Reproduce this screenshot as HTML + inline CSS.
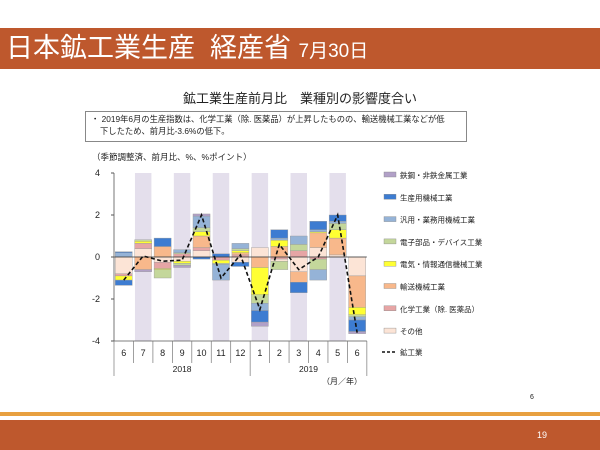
<!DOCTYPE html><html><head><meta charset="utf-8"><style>
body{margin:0;width:600px;height:450px;background:#fff;position:relative;overflow:hidden;font-family:"Liberation Sans","Noto Sans CJK JP",sans-serif}
.hdr{position:absolute;left:0;top:28px;width:600px;height:41px;background:#BE582D;color:#fff;font-size:27px;line-height:41px;padding-left:6px;box-sizing:border-box;white-space:nowrap}
.hdr small{font-size:19px}
</style></head><body>
<div class="hdr">日本鉱工業生産&nbsp;&nbsp;経産省 <small>7月30日</small></div>
<div style="position:absolute;left:0;top:412px;width:600px;height:4px;background:#E8A040"></div>
<div style="position:absolute;left:0;top:420px;width:600px;height:30px;background:#BE582D"></div>
<div style="position:absolute;left:537px;top:430px;color:#fff;font-size:9px">19</div>
<svg id="s" width="600" height="450" style="position:absolute;left:0;top:0" font-family="Liberation Sans, Noto Sans CJK JP, sans-serif"></svg>
<script>
var s='';
s+='<text x="300" y="103" font-size="13" text-anchor="middle" fill="#222">鉱工業生産前月比　業種別の影響度合い</text>';
s+='<rect x="85.5" y="111.5" width="381" height="30" fill="#fff" stroke="#888"/>';
s+='<text x="91" y="122" font-size="8.3" fill="#222">・ 2019年6月の生産指数は、化学工業（除. 医薬品）が上昇したものの、輸送機械工業などが低</text>';
s+='<text x="100" y="134" font-size="8.3" fill="#222">下したため、前月比-3.6%の低下。</text>';
s+='<text x="92" y="160" font-size="8.5" fill="#222">（季節調整済、前月比、%、%ポイント）</text>';
var L=114,W=19.45,Z=257,U=21,T=173,B=341;
for(var i=1;i<13;i+=2)s+='<rect x="'+(L+i*W+1.5)+'" y="'+T+'" width="'+(W-3)+'" height="'+(B-T)+'" fill="#E4DFEC"/>';
var C={pe:'#FCE4D6',rd:'#E6A5A5',or:'#F8B88B',ye:'#FFFF33',gr:'#C4D79B',lb:'#95B3D7',bl:'#3D7CD1',pu:'#B1A0C7'};
var D=[
[['lb',0.2],['bl',0.05]],[['pe',-0.8],['rd',-0.1],['ye',-0.2],['bl',-0.25]],
[['pe',0.4],['rd',0.25],['ye',0.1],['gr',0.07]],[['or',-0.6],['pu',-0.1]],
[['or',0.5],['bl',0.4]],[['pe',-0.25],['rd',-0.3],['ye',-0.05],['gr',-0.4]],
[['rd',0.15],['gr',0.05],['lb',0.15]],[['pe',-0.2],['ye',-0.1],['gr',-0.1],['pu',-0.1]],
[['pe',0.3],['rd',0.15],['or',0.55],['ye',0.2],['gr',0.2],['lb',0.55],['pu',0.1]],[['bl',-0.1]],
[['bl',0.15]],[['rd',-0.15],['ye',-0.15],['gr',-0.05],['lb',-0.75]],
[['rd',0.1],['or',0.1],['ye',0.1],['gr',0.1],['lb',0.25]],[['pe',-0.25],['bl',-0.2]],
[['pe',0.45]],[['or',-0.5],['ye',-1.3],['gr',-0.4],['lb',-0.35],['bl',-0.55],['pu',-0.2]],
[['or',0.5],['ye',0.3],['lb',0.1],['bl',0.4]],[['rd',-0.1],['pe',-0.1],['gr',-0.4]],
[['rd',0.3],['gr',0.3],['lb',0.4]],[['pe',-0.7],['or',-0.5],['bl',-0.5]],
[['pe',0.45],['or',0.7],['ye',0.05],['lb',0.1],['bl',0.4]],[['rd',-0.1],['gr',-0.5],['lb',-0.5]],
[['pe',0.1],['or',0.8],['ye',0.4],['gr',0.3],['lb',0.1],['bl',0.3]],[],
[],[['pe',-0.9],['or',-1.5],['ye',-0.35],['gr',-0.1],['lb',-0.15],['bl',-0.55],['pu',-0.1]]];
for(var m=0;m<13;m++){var x=L+m*W+1.2,w=W-2.4;
 [D[2*m],D[2*m+1]].forEach(function(a){var c=0;a.forEach(function(p){var y0=Z-c*U;c+=p[1];var y1=Z-c*U;
 s+='<rect x="'+x+'" y="'+Math.min(y0,y1)+'" width="'+w+'" height="'+Math.abs(y1-y0)+'" fill="'+C[p[0]]+'" stroke="#999" stroke-width="0.4"/>';});});}
s+='<line x1="'+L+'" y1="'+Z+'" x2="'+(L+13*W)+'" y2="'+Z+'" stroke="#333" stroke-width="0.8"/>';
s+='<line x1="'+L+'" y1="'+T+'" x2="'+L+'" y2="'+B+'" stroke="#555" stroke-width="0.8"/>';
[4,2,0,-2,-4].forEach(function(v){var y=Z-v*U;s+='<line x1="'+(L-3)+'" y1="'+y+'" x2="'+L+'" y2="'+y+'" stroke="#555"/><text x="'+(L-14)+'" y="'+(y+3)+'" font-size="9" text-anchor="end" fill="#222">'+v+'</text>';});
var V=[-1.1,0.05,-0.2,-0.15,2.0,-1.0,0.1,-2.5,0.6,-0.6,0.0,2.0,-3.6],pts=V.map(function(v,i){return (L+i*W+W/2)+','+(Z-v*U)}).join(' ');
s+='<polyline points="'+pts+'" fill="none" stroke="#111" stroke-width="1.6" stroke-dasharray="4,2.5"/>';
var ml=[6,7,8,9,10,11,12,1,2,3,4,5,6];
s+='<line x1="'+L+'" y1="'+B+'" x2="'+(L+13*W)+'" y2="'+B+'" stroke="#555" stroke-width="0.8"/>';
for(var m=0;m<=13;m++){var x=L+m*W;s+='<line x1="'+x+'" y1="'+B+'" x2="'+x+'" y2="'+(m==0||m==7||m==13?376:363)+'" stroke="#777" stroke-width="0.7"/>';
 if(m<13)s+='<text x="'+(x+W/2)+'" y="'+356+'" font-size="9" text-anchor="middle" fill="#222">'+ml[m]+'</text>';}
s+='<text x="'+(L+3.5*W)+'" y="372" font-size="8.5" text-anchor="middle" fill="#222">2018</text>';
s+='<text x="'+(L+10*W)+'" y="372" font-size="8.5" text-anchor="middle" fill="#222">2019</text>';
s+='<text x="322" y="384" font-size="8" fill="#222">（月／年）</text>';
s+='<text x="530" y="399" font-size="7" fill="#222">6</text>';
var lg=[['pu','鉄鋼・非鉄金属工業'],['bl','生産用機械工業'],['lb','汎用・業務用機械工業'],['gr','電子部品・デバイス工業'],['ye','電気・情報通信機械工業'],['or','輸送機械工業'],['rd','化学工業（除. 医薬品）'],['pe','その他']];
lg.forEach(function(p,i){var y=176+i*22.3;s+='<rect x="384" y="'+(y-4)+'' +'" width="12" height="5" fill="'+C[p[0]]+'" stroke="#888" stroke-width="0.4"/><text x="400" y="'+(y+2)+'" font-size="7.5" fill="#222">'+p[1]+'</text>';});
s+='<line x1="382" y1="352" x2="397" y2="352" stroke="#111" stroke-width="1.6" stroke-dasharray="3,2"/><text x="400" y="355" font-size="7.5" fill="#222">鉱工業</text>';
document.getElementById('s').innerHTML=s;
</script>
</body></html>
